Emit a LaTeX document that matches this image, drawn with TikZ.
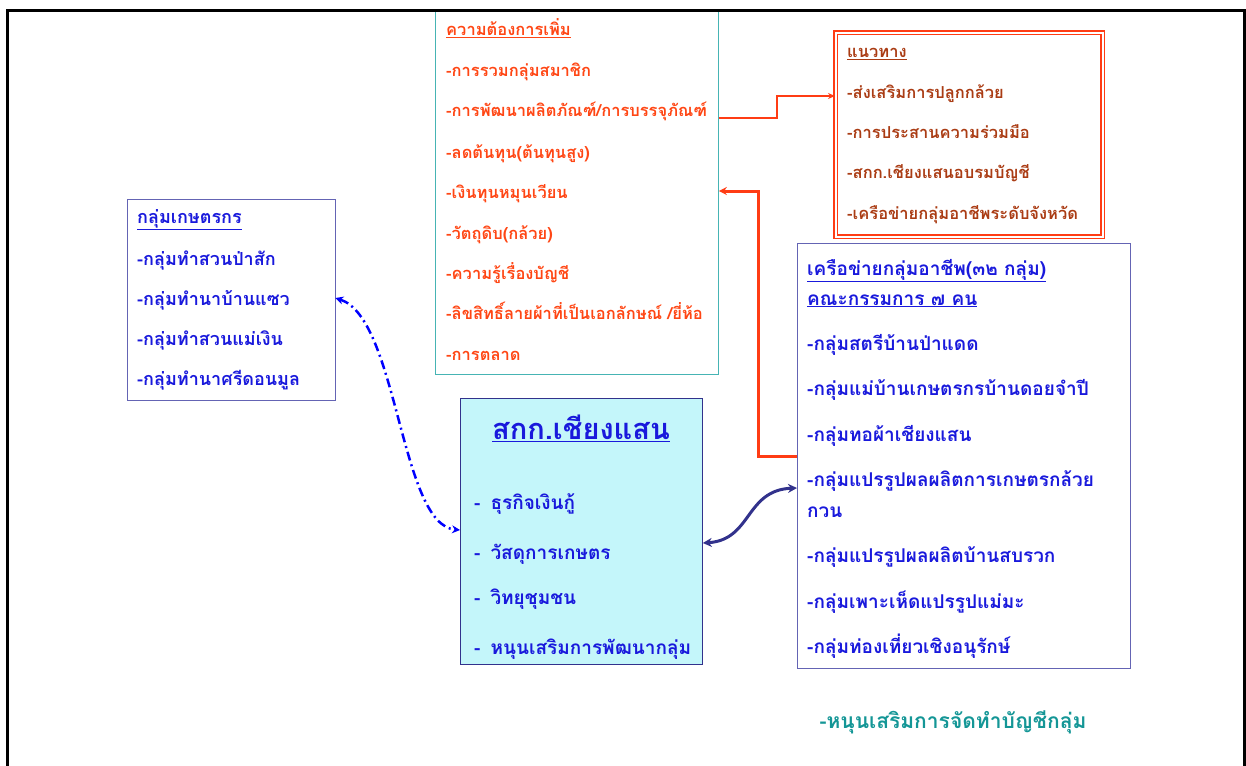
\documentclass[tikz,border=0pt]{standalone}
\usepackage{fontspec}
\newfontfamily\thaifont[Script=Thai]{Loma}
\usepackage{tikz}
\usetikzlibrary{arrows.meta,calc,positioning}
\definecolor{txtblue}{RGB}{25,25,220}
\definecolor{boxblue}{RGB}{100,100,180}
\definecolor{boxteal}{RGB}{70,180,180}
\definecolor{txtorange}{RGB}{255,70,20}
\definecolor{txtbrown}{RGB}{170,60,20}
\definecolor{lineorange}{RGB}{255,60,20}
\definecolor{centrefill}{RGB}{196,246,250}
\definecolor{centreline}{RGB}{50,50,140}
\definecolor{txtteal}{RGB}{20,150,150}
\tikzset{
	frame/.style={anchor=north west,inner sep=0pt},
	item/.style={anchor=base west,inner sep=0pt,font=\thaifont\bfseries\fontsize{#1}{#1}\selectfont},
	item/.default=16.5,
}
\begin{document}
\begin{tikzpicture}[x=1pt,y=-1pt]
\useasboundingbox (0,0) rectangle (1246,765);
\clip (0,0) rectangle (1246,765);
% boxes
\node (groups) at (127,199) [frame,draw=boxblue,thin,minimum width=208,minimum height=201] {};
\node (needs) at (435,11) [frame,draw=boxteal,thick,minimum width=283,minimum height=363] {};
\node (plan) at (835,32) [frame,draw=lineorange,double,double distance=2pt,line width=1.1pt,minimum width=267,minimum height=204] {};
\node (network) at (797,243) [frame,draw=boxblue,thick,minimum width=333,minimum height=425] {};
\node (skk) at (460,398) [frame,draw=centreline,fill=centrefill,thick,minimum width=242,minimum height=266] {};
% outer frame
\draw [line width=3pt] (7,800) -- (7,11) -- (1244,11) -- (1244,800);
% left box
\node (g0) at (137,223) [item=18,txtblue] {\underline{กลุ่มเกษตรกร}};
\node (g1) at (137,265) [item=18,txtblue] {-กลุ่มทำสวนป่าสัก};
\node (g2) at (137,305) [item=18,txtblue] {-กลุ่มทำนาบ้านแซว};
\node (g3) at (137,345) [item=18,txtblue] {-กลุ่มทำสวนแม่เงิน};
\node (g4) at (137,385) [item=18,txtblue] {-กลุ่มทำนาศรีดอนมูล};
% needs box
\node (n0) at (446,36) [item,txtorange] {\underline{ความต้องการเพิ่ม}};
\node (n1) at (446,77) [item,txtorange] {-การรวมกลุ่มสมาชิก};
\node (n2) at (446,117) [item,txtorange] {-การพัฒนาผลิตภัณฑ์/การบรรจุภัณฑ์};
\node (n3) at (446,158) [item,txtorange] {-ลดต้นทุน(ต้นทุนสูง)};
\node (n4) at (446,198) [item,txtorange] {-เงินทุนหมุนเวียน};
\node (n5) at (446,239) [item,txtorange] {-วัตถุดิบ(กล้วย)};
\node (n6) at (446,279) [item,txtorange] {-ความรู้เรื่องบัญชี};
\node (n7) at (446,319) [item,txtorange] {-ลิขสิทธิ์ลายผ้าที่เป็นเอกลักษณ์ /ยี่ห้อ};
\node (n8) at (446,360) [item,txtorange] {-การตลาด};
% plan box
\node (p0) at (847,58) [item,txtbrown] {\underline{แนวทาง}};
\node (p1) at (847,99) [item,txtbrown] {-ส่งเสริมการปลูกกล้วย};
\node (p2) at (847,138) [item,txtbrown] {-การประสานความร่วมมือ};
\node (p3) at (847,178) [item,txtbrown] {-สกก.เชียงแสนอบรมบัญชี};
\node (p4) at (847,219) [item,txtbrown] {-เครือข่ายกลุ่มอาชีพระดับจังหวัด};
% network box
\node (w0) at (807,275) [item=19,txtblue] {\underline{เครือข่ายกลุ่มอาชีพ(๓๒ กลุ่ม)}};
\node (w1) at (807,305) [item=19,txtblue] {\underline{คณะกรรมการ ๗ คน}};
\node (w2) at (807,350) [item=19,txtblue] {-กลุ่มสตรีบ้านป่าแดด};
\node (w3) at (807,395) [item=19,txtblue] {-กลุ่มแม่บ้านเกษตรกรบ้านดอยจำปี};
\node (w4) at (807,441) [item=19,txtblue] {-กลุ่มทอผ้าเชียงแสน};
\node (w5) at (807,486) [item=19,txtblue] {-กลุ่มแปรรูปผลผลิตการเกษตรกล้วย};
\node (w6) at (807,517) [item=19,txtblue] {กวน};
\node (w7) at (807,562) [item=19,txtblue] {-กลุ่มแปรรูปผลผลิตบ้านสบรวก};
\node (w8) at (807,608) [item=19,txtblue] {-กลุ่มเพาะเห็ดแปรรูปแม่มะ};
\node (w9) at (807,653) [item=19,txtblue] {-กลุ่มท่องเที่ยวเชิงอนุรักษ์};
% centre box
\node (s0) at (581,428) [inner sep=0pt,txtblue,font=\thaifont\bfseries\fontsize{29}{32}\selectfont] {\underline{สกก.เชียงแสน}};
\node (s1) at (474,509) [item=19,txtblue] {-\hspace{10pt}ธุรกิจเงินกู้};
\node (s2) at (474,559) [item=19,txtblue] {-\hspace{10pt}วัสดุการเกษตร};
\node (s3) at (474,604) [item=19,txtblue] {-\hspace{10pt}วิทยุชุมชน};
\node (s4) at (474,654) [item=19,txtblue] {-\hspace{10pt}หนุนเสริมการพัฒนากลุ่ม};
% bottom note
\node (note) at (953,722) [inner sep=0pt,txtteal,font=\thaifont\bfseries\fontsize{21}{24}\selectfont] {-หนุนเสริมการจัดทำบัญชีกลุ่ม};
% connectors
\draw [lineorange,line width=1.8pt,-{Stealth[length=7pt,width=6pt]}] (needs.east |- 0,118) -- (777,118) |- (plan.west |- 0,96);
\draw [lineorange,line width=3pt,-{Stealth[length=8pt,width=8pt]}] (network.west |- 0,456) -- (758,456) |- (needs.east |- 0,191);
\draw [blue,line width=2.5pt,dash pattern=on 9pt off 4pt on 2pt off 4pt,{Stealth[length=8pt,width=8pt]}-{Stealth[length=8pt,width=8pt]}] (groups.east |- 0,298) .. controls (398,318) and (400,525) .. (skk.west |- 0,530);
\draw [centreline,line width=3pt,{Stealth[length=9pt,width=9pt]}-{Stealth[length=9pt,width=9pt]}] (skk.east |- 0,543) .. controls (752,540) and (745,490) .. (network.west |- 0,488);
\end{tikzpicture}
\end{document}
